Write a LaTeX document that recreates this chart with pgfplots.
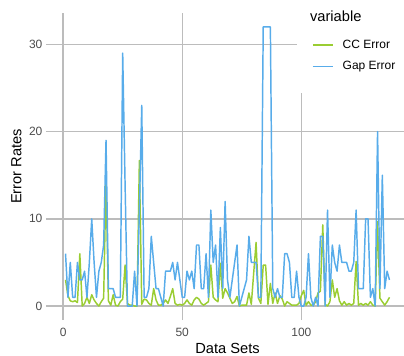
\documentclass[border=0pt]{standalone}
\usepackage{fontspec}
\setmainfont{Liberation Sans}
\usepackage{pgfplots}
\pgfplotsset{compat=1.18}
\definecolor{ccgreen}{RGB}{154,205,50}
\definecolor{gapblue}{RGB}{88,172,234}
\definecolor{gridgray}{RGB}{188,188,188}
\definecolor{ticklab}{RGB}{77,77,77}
\begin{document}
\begin{tikzpicture}
\useasboundingbox (0,0) rectangle (303pt,266.25pt);
\begin{axis}[
  at={(34.5pt,26.25pt)}, anchor=south west,
  scale only axis, width=268.5pt, height=230.25pt,
  xmin=-7.2, xmax=143.1, ymin=-1.6, ymax=33.6,
  xtick={0,50,100}, ytick={0,10,20,30},
  grid=major, major grid style={gridgray, line width=1pt},
  axis line style={draw=none},
  major tick length=0pt,
  clip=false,
  /pgf/number format/assume math mode=true,
  tick label style={font=\fontsize{9}{10.8}\selectfont, text=ticklab, inner sep=0pt},
  xticklabel shift=5.6pt,
  yticklabel shift=2.5pt,
  xlabel={Data Sets}, ylabel={Error Rates},
  label style={font=\fontsize{11}{13.2}\selectfont},
  xlabel style={at={(axis description cs:0.507,-0.0749)}, anchor=north, inner sep=0pt},
  ylabel style={at={(axis description cs:-0.0679,0.5)}, anchor=south, inner sep=0pt},
  legend style={at={(0.743,0.914)}, anchor=north west, draw=none, fill=none,
    font=\fontsize{9}{10.8}\selectfont, row sep=8.5pt, column sep=6.75pt,
    inner sep=0pt, nodes={inner sep=0pt}},
  legend cell align=left,
  legend image code/.code={\draw[#1] (0pt,0pt) -- (15pt,0pt);},
  every axis plot/.append style={line width=1.1pt, line join=round},
]
\fill[white] (rel axis cs:0.701,0.739) rectangle (rel axis cs:1.05,1.06);
\node[anchor=base west, inner sep=0pt, font=\fontsize{11}{13.2}\selectfont] at (rel axis cs:0.737,0.971) {variable};
\addplot[ccgreen] coordinates {
(1,3) (2,1.2) (3,0.6) (4,0.5) (5,0.6) (6,0.4) (7,6) (8,0) (9,0.3) (10,1)
(11,0.3) (12,1.3) (13,0.7) (14,0.3) (15,0) (16,0.5) (17,0.9) (18,14.5) (19,0.6) (20,0.1)
(21,1.3) (22,0.1) (23,0) (24,0.5) (25,0.8) (26,4.7) (27,0.3) (28,0.1) (29,0.1) (30,0)
(31,0) (32,16.7) (33,0.2) (34,0.8) (35,0.7) (36,0.3) (37,0.1) (38,2) (39,0.7) (40,0.1)
(41,0.1) (42,0.3) (43,0.7) (44,0.3) (45,1.1) (46,2) (47,0.3) (48,0.1) (49,0.2) (50,0.1)
(51,0.3) (52,0.7) (53,0.3) (54,0.1) (55,0.7) (56,1) (57,0.8) (58,0.3) (59,0.1) (60,0.3)
(61,0.5) (62,4.7) (63,1) (64,0.7) (65,0.5) (66,4.9) (67,0.9) (68,2) (69,1.5) (70,0.9)
(71,0.3) (72,0.5) (73,1.1) (74,0) (75,0.1) (76,0.1) (77,0.1) (78,1.5) (79,0.2) (80,3.8)
(81,7.3) (82,0.9) (83,0.3) (84,4.7) (85,4.7) (86,0.2) (87,2.6) (88,0.3) (89,1.5) (90,0.3)
(91,1.2) (92,0.8) (93,0) (94,0.5) (95,0.3) (96,0.1) (97,0.1) (98,0.1) (99,0.3) (100,1.2)
(101,1.8) (102,0.1) (103,0.5) (104,0.1) (105,0.1) (106,0.5) (107,1.5) (108,1.7) (109,9.3) (110,0.2)
(111,0) (112,0.5) (113,3) (114,1) (115,2) (116,0.6) (117,0.1) (118,0.5) (119,0.1) (120,0.3)
(121,0.1) (122,0.3) (123,5.1) (124,0.1) (125,0.3) (126,0.1) (127,0.3) (128,0.1) (129,0.5) (130,0.1)
(131,0) (132,9.7) (133,0.9) (134,0.5) (135,0.1) (136,0.5) (137,1)
};
\addlegendentry{CC Error}
\addplot[gapblue] coordinates {
(1,6) (2,1) (3,5) (4,1) (5,1) (6,5) (7,3) (8,3) (9,4) (10,1)
(11,5) (12,10) (13,5) (14,1) (15,4) (16,5) (17,7) (18,19) (19,2) (20,2)
(21,2) (22,1) (23,1) (24,1) (25,29) (26,14) (27,0) (28,0) (29,0) (30,4)
(31,0) (32,11) (33,23) (34,1) (35,1) (36,2) (37,8) (38,5) (39,2) (40,2)
(41,1) (42,0) (43,4) (44,4) (45,4) (46,5) (47,3) (48,5) (49,3) (50,1)
(51,1) (52,4) (53,3) (54,4) (55,2) (56,7) (57,7) (58,2) (59,2) (60,6)
(61,1) (62,11) (63,5) (64,7) (65,1) (66,9) (67,2) (68,12) (69,3) (70,1)
(71,3) (72,5) (73,7) (74,0) (75,1) (76,2) (77,3) (78,8) (79,5) (80,5)
(81,5) (82,1) (83,1) (84,32) (85,32) (86,32) (87,32) (88,2) (89,1) (90,2)
(91,1) (92,1) (93,6) (94,6) (95,5) (96,1) (97,1) (98,4) (99,1) (100,0)
(101,0) (102,1) (103,6) (104,1) (105,0) (106,1) (107,0) (108,8) (109,8) (110,0)
(111,11) (112,1) (113,7) (114,5) (115,4) (116,7) (117,5) (118,5) (119,5) (120,4)
(121,4) (122,5) (123,11) (124,2) (125,2) (126,2) (127,10) (128,10) (129,1) (130,2)
(131,0) (132,20) (133,2) (134,15) (135,2) (136,4) (137,3)
};
\addlegendentry{Gap Error}
\end{axis}
\end{tikzpicture}
\end{document}
